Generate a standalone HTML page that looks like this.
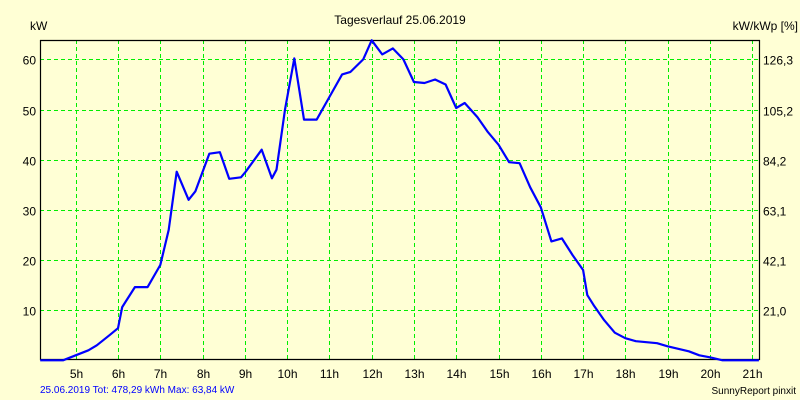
<!DOCTYPE html>
<html><head><meta charset="utf-8"><style>
html,body{margin:0;padding:0;background:#FFFFD5;}
svg{display:block;font-family:"Liberation Sans",sans-serif;}
</style></head><body>
<svg id="chart" width="800" height="400" viewBox="0 0 800 400">
<rect x="0" y="0" width="800" height="400" fill="#FFFFD5"/>
<text x="400" y="24" font-size="12" text-anchor="middle" fill="#000">Tagesverlauf 25.06.2019</text>
<text x="30" y="30" font-size="12" fill="#000">kW</text>
<text x="798" y="30" font-size="12" text-anchor="end" fill="#000">kW/kWp [%]</text>
<g id="grid"></g>
<g id="axes"></g>
<g id="series"></g>
<text x="40" y="393" font-size="10" fill="#0000FF">25.06.2019 Tot: 478,29 kWh Max: 63,84 kW</text>
<text x="796" y="394" font-size="10" text-anchor="end" fill="#000">SunnyReport pinxit</text>
</svg>
<script>
const hours=[4.16,4.7,5.0,5.3,5.5,5.8,6.0,6.1,6.4,6.7,7.0,7.2,7.39,7.67,7.83,8.16,8.41,8.63,8.91,9.02,9.4,9.64,9.75,9.95,10.17,10.4,10.7,11.0,11.3,11.5,11.8,12.0,12.25,12.5,12.75,13.0,13.25,13.5,13.75,14.0,14.2,14.5,14.75,15.0,15.25,15.5,15.75,16.0,16.25,16.5,16.75,17.0,17.1,17.25,17.5,17.75,18.0,18.25,18.5,18.75,19.0,19.25,19.5,19.75,20.0,20.3,21.16];
const powerKw=[0,0,1,2,3,5,6.4,10.6,14.6,14.6,19,26,37.6,32,33.7,41.2,41.5,36.2,36.5,37.6,42,36.3,38,50,60.2,48,48,52.5,57,57.5,60,63.8,61,62.2,60,55.5,55.3,56,55,50.3,51.3,48.5,45.5,43,39.5,39.3,34.5,30.5,23.7,24.3,21,18,13,11,8,5.5,4.4,3.8,3.6,3.4,2.8,2.3,1.8,1.0,0.6,0,0];
const hourTicks=[5,6,7,8,9,10,11,12,13,14,15,16,17,18,19,20,21];
const kwTicks=[10,20,30,40,50,60];
const pctTicks=["21,0","42,1","63,1","84,2","105,2","126,3"];
const NS="http://www.w3.org/2000/svg";
const L=40,R=759,T=40,B=359;
function xs(h){return 75.7+(h-5)*42.28;}
function ys(v){return 360.3-v*5.015;}
function mk(tag,attrs,parent){const e=document.createElementNS(NS,tag);for(const k in attrs)e.setAttribute(k,attrs[k]);parent.appendChild(e);return e;}
const grid=document.getElementById('grid'),axes=document.getElementById('axes'),series=document.getElementById('series');
hourTicks.forEach(h=>{
  const x=Math.round(xs(h))+0.5;
  const g=mk('line',{x1:x,x2:x,y1:T,y2:B,stroke:'#00EE00','stroke-width':1,'stroke-dasharray':'4,3'},grid);
  
  
  const t=mk('text',{x:x,y:B+19,'font-size':12,'text-anchor':'middle',fill:'#000'},axes);
  t.textContent=h+'h';
  
  
});
kwTicks.forEach((v,i)=>{
  const y=Math.round(ys(v))+0.5;
  const g=mk('line',{x1:L,x2:R,y1:y,y2:y,stroke:'#00EE00','stroke-width':1,'stroke-dasharray':'4,3'},grid);
  
  
  const t=mk('text',{x:L-4,y:y+5,'font-size':12,'text-anchor':'end',fill:'#000'},axes);
  t.textContent=v;
  
  
  const t2=mk('text',{x:R+4,y:y+5,'font-size':12,fill:'#000'},axes);
  t2.textContent=pctTicks[i];
  
  
});
const frame=mk('path',{d:`M${L+0.5},${T} V${B+0.5} H${R+0.5} V${T} M${L},${T+0.5} H${R+1}`,fill:'none',stroke:'#000','stroke-width':1.2},axes);


const pts=hours.map((h,i)=>xs(h).toFixed(1)+','+ys(powerKw[i]).toFixed(1)).join(' ');
const line=mk('polyline',{points:pts,fill:'none',stroke:'#0000FF','stroke-width':2.2,'stroke-linejoin':'round'},series);


</script>
</body></html>
